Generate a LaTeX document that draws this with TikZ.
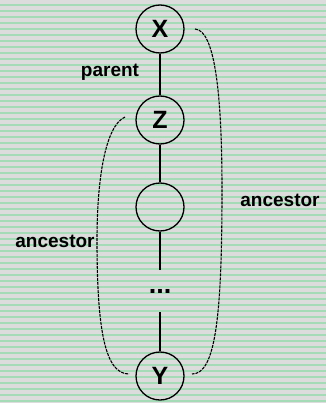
\documentclass[tikz,border=0pt]{standalone}
\usepackage{fontspec}
\setmainfont{Liberation Sans}
\definecolor{bggrey}{HTML}{DCDCDC}
\definecolor{stripe}{HTML}{A6DBB8}
\begin{document}
\begin{tikzpicture}[x=1pt,y=-1pt,
  vnode/.style={draw,circle,line width=1.3pt,minimum size=48pt,inner sep=0pt,
    font=\fontsize{25}{25}\selectfont\bfseries},
  lbl/.style={font=\fontsize{19}{19}\selectfont\bfseries,inner sep=0pt},
  edge/.style={line width=1.2pt},
  brace/.style={line width=1.1pt,dash pattern=on 3pt off 1pt}]
\fill[bggrey] (0,0) rectangle (326,403);
\foreach \k in {0,...,66} {
  \fill[stripe] (0,{4+6*\k}) rectangle (326,{5.8+6*\k});
}
\useasboundingbox (0,0) rectangle (326,403);
\node[vnode] (X) at (160,29) {X};
\node[vnode] (Z) at (160,120) {Z};
\node[vnode] (M) at (160,207) {};
\node[inner sep=0pt,font=\fontsize{27}{27}\selectfont\bfseries] (D) at (160,291) {...};
\node[vnode] (Y) at (160,376) {Y};
\coordinate (Mend) at (160,270);
\coordinate (Ystart) at (160,312);
\draw[edge] (X) -- (Z);
\draw[edge] (Z) -- (M);
\draw[edge] (M) -- (Mend);
\draw[edge] (Ystart) -- (Y);
\node[lbl] (parent) at (110,72) {parent};
\node[lbl] (anc1) at (280,200) {ancestor};
\node[lbl] (anc2) at (55,241) {ancestor};
\coordinate (r1) at (195,29);
\coordinate (r2) at (222,190);
\coordinate (r3) at (192,374);
\coordinate (l1) at (125,117);
\coordinate (l2) at (97,240);
\coordinate (l3) at (129,374);
\draw[brace] (r1) .. controls (215,30) and (222,95) .. (r2) .. controls (222,320) and (215,374) .. (r3);
\draw[brace] (l1) .. controls (105,126) and (97,180) .. (l2) .. controls (97,330) and (105,374) .. (l3);
\end{tikzpicture}
\end{document}
